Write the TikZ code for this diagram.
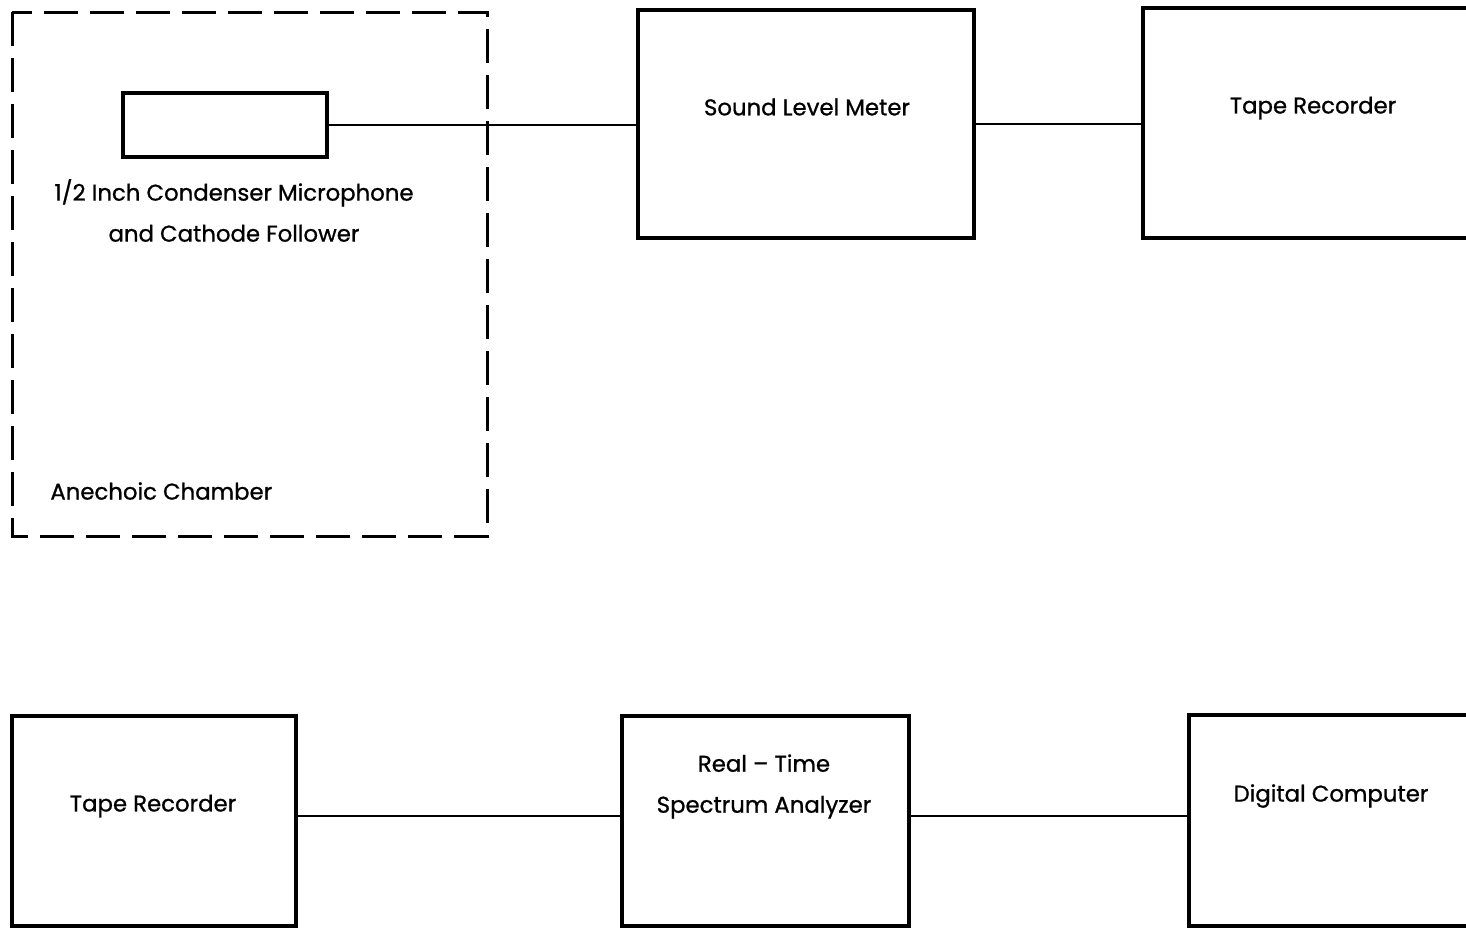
\documentclass[tikz,border=0pt]{standalone}
\usepackage{fontspec}
\setmainfont{Poppins}
\newfontfamily\lblfont{Poppins}[FakeBold=0.9, Ligatures=TeX]
\usepackage{tikz}

\tikzset{
    blok/.style={draw, line width=1.6pt, rectangle, inner sep=0pt, outer sep=0pt},
    lbl/.style={font=\lblfont\fontsize{11.4}{20.5}\selectfont, inner sep=0pt, align=center},
    wire/.style={line width=1.1pt}
}

\begin{document}
\begin{tikzpicture}[x=0.5pt, y=-0.5pt]
        \useasboundingbox (0,0) rectangle (1466,928);
        \clip (0,0) rectangle (1466,928);

        % Buong cach am
        \draw[line width=1.5pt, dash pattern=on 17pt off 6pt] (12,12) rectangle (487,536);
        \node[lbl, anchor=west] (chamber) at (50,491) {Anechoic Chamber};

        % Micro
        \node[blok, minimum width=102pt, minimum height=32pt] (mic) at (225,125) {};
        \node[lbl] (miclbl) at (234,210.5) {1/2 Inch Condenser Microphone\\and Cathode Follower};

        % Hang tren
        \node[blok, minimum width=168pt, minimum height=114pt] (slm) at (806,124) {};
        \node[lbl] (slmlbl) at (807,107) {Sound Level Meter};
        \node[blok, minimum width=173.5pt, minimum height=115pt] (tr1) at (1316.5,123) {};
        \node[lbl] (tr1lbl) at (1313,108) {Tape Recorder};

        \draw[wire] (mic.east) -- (mic.east -| slm.west);
        \draw[wire] (slm.east) -- (slm.east -| tr1.west);

        % Hang duoi
        \node[blok, minimum width=142pt, minimum height=105pt] (tr2) at (154,821) {};
        \node[lbl] (tr2lbl) at (153,806) {Tape Recorder};
        \node[blok, minimum width=143.5pt, minimum height=105pt] (rtsa) at (765.5,821) {};
        \node[lbl] (rtsalbl) at (764,786.5) {Real – Time\\Spectrum Analyzer};
        \node[blok, minimum width=150.5pt, minimum height=105.5pt] (dc) at (1339.5,820.5) {};
        \node[lbl] (dclbl) at (1331,796) {Digital Computer};

        \draw[wire] ([yshift=2.5pt]tr2.east) -- ([yshift=2.5pt]tr2.east -| rtsa.west);
        \draw[wire] ([yshift=2.5pt]rtsa.east) -- ([yshift=2.5pt]rtsa.east -| dc.west);
    \end{tikzpicture}
\end{document}
